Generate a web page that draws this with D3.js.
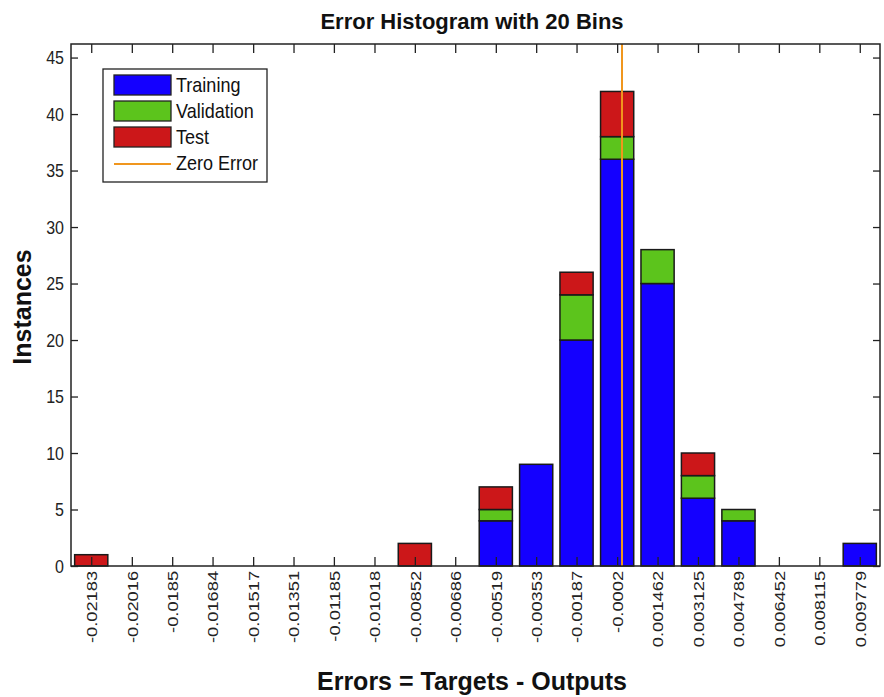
<!DOCTYPE html>
<html>
<head>
<meta charset="utf-8">
<script src="https://cdn.jsdelivr.net/npm/d3@7"></script>
<style>
  body { margin: 0; background: #fff; }
  text { font-family: "Liberation Sans", Arial, sans-serif; }
</style>
</head>
<body>
<div id="chart"></div>
<script>
// bin centres as printed on the x axis
const binLabels = ["-0.02183", "-0.02016", "-0.0185", "-0.01684", "-0.01517", "-0.01351",
  "-0.01185", "-0.01018", "-0.00852", "-0.00686", "-0.00519", "-0.00353", "-0.00187",
  "-0.0002", "0.001462", "0.003125", "0.004789", "0.006452", "0.008115", "0.009779"]
const training   = [0, 0, 0, 0, 0, 0, 0, 0, 0, 0, 4, 9, 20, 36, 25, 6, 4, 0, 0, 2]
const validation = [0, 0, 0, 0, 0, 0, 0, 0, 0, 0, 1, 0, 4, 2, 3, 2, 1, 0, 0, 0]
const test       = [1, 0, 0, 0, 0, 0, 0, 0, 2, 0, 2, 0, 2, 4, 0, 2, 0, 0, 0, 0]
const seriesNames = ["Training", "Validation", "Test"]
const yTicks = [0, 5, 10, 15, 20, 25, 30, 35, 40, 45]

const colors = ["#1400ff", "#5cc41c", "#cc1719"]
const zeroColor = "#f0961e"

const width = 884, height = 697
const margin = {top: 44, right: 4, bottom: 131, left: 71}
const innerW = width - margin.left - margin.right
const innerH = height - margin.top - margin.bottom

const svg = d3.select("#chart").append("svg")
  .attr("width", width)
  .attr("height", height)

const g = svg.append("g").attr("transform", `translate(${margin.left},${margin.top})`)

// numeric bin centres, bin width from first/last
const centres = binLabels.map(Number)
const binW = (centres[centres.length - 1] - centres[0]) / (centres.length - 1)

const x = d3.scaleLinear()
  .domain([centres[0] - binW / 2, centres[centres.length - 1] + binW / 2])
  .range([0, innerW])

const y = d3.scaleLinear()
  .domain([0, 46.2])
  .range([innerH, 0])

// stack the three series
const rows = binLabels.map((b, i) => ({bin: centres[i], Training: training[i], Validation: validation[i], Test: test[i]}))
const stacked = d3.stack().keys(seriesNames)(rows)

const barW = x(binW * 0.82) - x(0)

stacked.forEach((layer, li) => {
  g.selectAll(".bar" + li)
    .data(layer.filter(d => d[1] > d[0]))
    .enter().append("rect")
    .attr("x", d => x(d.data.bin) - barW / 2)
    .attr("y", d => y(d[1]))
    .attr("width", barW)
    .attr("height", d => y(d[0]) - y(d[1]))
    .attr("fill", colors[li])
    .attr("stroke", "#1a1a1a")
    .attr("stroke-width", 1.5)
})

// zero error line
g.append("line")
  .attr("x1", x(0)).attr("x2", x(0))
  .attr("y1", 0).attr("y2", innerH)
  .attr("stroke", zeroColor)
  .attr("stroke-width", 2)

// axes - ticks pointing inward, matlab style box
const xAxis = d3.axisBottom(x).tickValues(centres).tickFormat((d, i) => binLabels[i]).tickSizeInner(-9).tickSizeOuter(0)
const xTop = d3.axisTop(x).tickValues(centres).tickFormat("").tickSizeInner(-9).tickSizeOuter(0)
const yAxis = d3.axisLeft(y).tickValues(yTicks).tickSizeInner(-7).tickSizeOuter(0)
const yRight = d3.axisRight(y).tickValues(yTicks).tickFormat("").tickSizeInner(-7).tickSizeOuter(0)

// the source picture is stretched a bit vertically, so the text is too
const gx = g.append("g").attr("transform", `translate(0,${innerH})`).call(xAxis)
gx.selectAll("text")
  .attr("transform", "rotate(-90) scale(1.22,1)")
  .attr("x", -4).attr("y", 0).attr("dy", "0.35em")
  .style("text-anchor", "end")
  .style("font-size", "15px")
g.append("g").call(xTop)
const gy = g.append("g").call(yAxis)
gy.selectAll(".tick text")
  .attr("x", -7).attr("y", 0)
  .attr("transform", "scale(1,1.2)")
  .style("font-size", "16px")
g.append("g").attr("transform", `translate(${innerW},0)`).call(yRight)

g.selectAll(".domain").remove()
g.selectAll(".tick line").attr("stroke", "#222").attr("stroke-width", 1.3)
g.selectAll(".tick text").attr("fill", "#222")

g.append("rect")
  .attr("width", innerW).attr("height", innerH)
  .attr("fill", "none").attr("stroke", "#222").attr("stroke-width", 1.5)

// titles
svg.append("text")
  .attr("x", 472).attr("y", 29)
  .attr("text-anchor", "middle")
  .style("font-size", "22px")
  .style("font-weight", "bold")
  .attr("fill", "#111")
  .text("Error Histogram with 20 Bins")

svg.append("text")
  .attr("transform", "translate(31,307) rotate(-90)")
  .attr("text-anchor", "middle")
  .style("font-size", "25px")
  .style("font-weight", "bold")
  .attr("fill", "#111")
  .text("Instances")

svg.append("text")
  .attr("x", 472).attr("y", 690)
  .attr("text-anchor", "middle")
  .style("font-size", "25px")
  .style("font-weight", "bold")
  .attr("fill", "#111")
  .text("Errors = Targets - Outputs")

// legend
const legend = svg.append("g").attr("transform", "translate(103,69)")
legend.append("rect")
  .attr("width", 164).attr("height", 113)
  .attr("fill", "#fff").attr("stroke", "#222").attr("stroke-width", 1.3)

const legendItems = seriesNames.concat(["Zero Error"])
legendItems.forEach((name, i) => {
  const row = legend.append("g").attr("transform", `translate(0,${6 + i * 26})`)
  if (i < 3) {
    row.append("rect")
      .attr("x", 11).attr("y", 0)
      .attr("width", 57).attr("height", 20)
      .attr("fill", colors[i]).attr("stroke", "#222").attr("stroke-width", 1.3)
  } else {
    row.append("line")
      .attr("x1", 11).attr("x2", 68)
      .attr("y1", 11).attr("y2", 11)
      .attr("stroke", zeroColor).attr("stroke-width", 2)
  }
  row.append("text")
    .attr("transform", "translate(73,10) scale(1.06,1.15)")
    .attr("dy", "0.35em")
    .style("font-size", "17px")
    .attr("fill", "#111")
    .text(name)
})
</script>
</body>
</html>
